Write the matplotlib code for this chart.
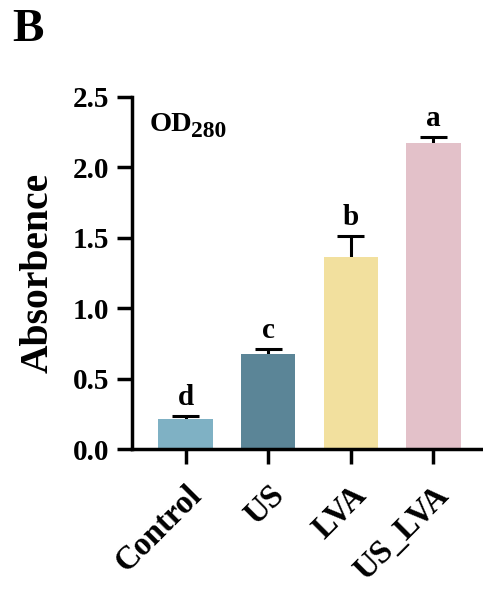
import matplotlib
matplotlib.use("Agg")
import matplotlib.pyplot as plt
import numpy as np

categories = ["Control", "US", "LVA", "US_LVA"]
values = [0.213, 0.675, 1.365, 2.17]
errors = [0.022, 0.035, 0.145, 0.045]
letters = ["d", "c", "b", "a"]
colors = ["#7fb1c4", "#5b8597", "#f2e09e", "#e3c1c9"]
yticks = [0.0, 0.5, 1.0, 1.5, 2.0, 2.5]

plt.rcParams['font.family'] = ['Liberation Serif']
plt.rcParams['font.weight'] = 'bold'

fig = plt.figure(figsize=(4.83, 5.94), dpi=100)
ax = fig.add_axes([0.274, 0.244, 0.726, 0.593])

x = np.arange(len(categories))
vals = np.array(values)
errs = np.array(errors)
ax.bar(x, vals, width=0.66, color=colors, zorder=2)
ax.vlines(x, vals, vals + errs, color='black', linewidth=2.2, zorder=1)
ax.hlines(vals + errs, x - 0.165, x + 0.165, color='black', linewidth=2.2, zorder=3)
for xi, v, e, l in zip(x, vals, errs, letters):
    ax.text(xi, v + e + 0.035, l, ha='center', va='bottom', fontsize=21,
            fontweight='bold')

ax.set_xlim(-0.645, 3.6)
ax.set_ylim(0, 2.5)
ax.set_yticks(yticks)
ax.set_yticklabels([f"{t:.1f}" for t in yticks])
ax.set_xticks(x)
ax.set_xticklabels(categories, rotation=45, ha='right', rotation_mode='anchor')

for s in ['top', 'right']:
    ax.spines[s].set_visible(False)
for s in ['left', 'bottom']:
    ax.spines[s].set_linewidth(2.5)
ax.tick_params(axis='both', width=2.5, length=11, labelsize=21, pad=5.5)
ax.tick_params(axis='x', labelsize=23.5, pad=11)
for lab in ax.get_xticklabels() + ax.get_yticklabels():
    lab.set_fontweight('bold')

ax.set_ylabel("Absorbence", fontsize=28.5, fontweight='bold', labelpad=12)
t1 = ax.text(0.05, 0.903, "OD", transform=ax.transAxes,
             fontsize=20.5, ha='left', va='baseline', fontweight='bold')
fig.canvas.draw()
bb = t1.get_window_extent()
xr = ax.transAxes.inverted().transform((bb.x1, bb.y0))[0]
ax.text(xr - 0.004, 0.903 - 0.018, "280", transform=ax.transAxes,
        fontsize=17, ha='left', va='baseline', fontweight='bold')
fig.text(0.025, 0.985, "B", fontsize=34, fontweight='bold', ha='left', va='top')

fig.savefig("out.png", dpi=100)
